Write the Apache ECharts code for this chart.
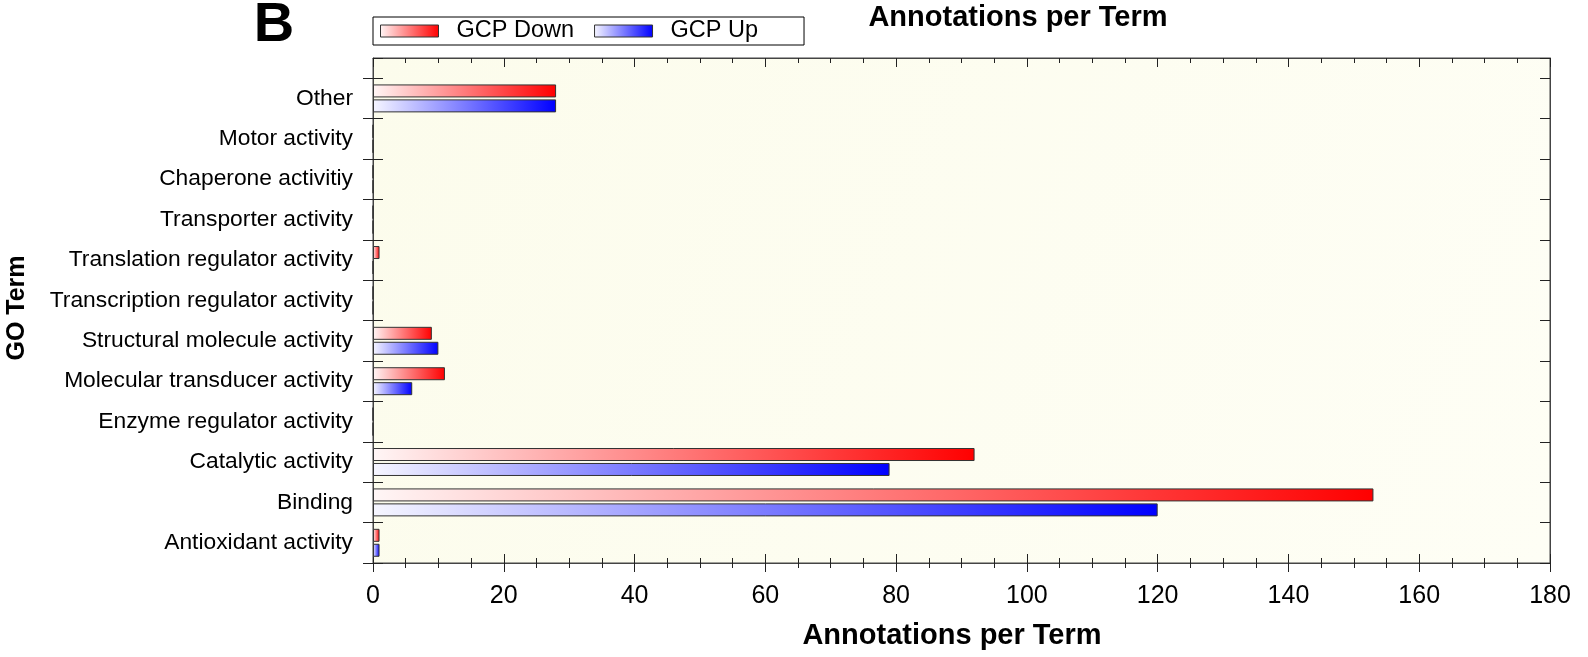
<!DOCTYPE html>
<html>
<head>
<meta charset="utf-8">
<script src="https://cdn.jsdelivr.net/npm/echarts@6/dist/echarts.min.js"></script>
<style>html,body{margin:0;padding:0;background:#fff;}#chart{width:1588px;height:657px;}</style>
</head>
<body>
<div id="chart"></div>
<script>
// GO terms, bottom to top as drawn on the category axis
const categories = ['Antioxidant activity', 'Binding', 'Catalytic activity', 'Enzyme regulator activity',
  'Molecular transducer activity', 'Structural molecule activity', 'Transcription regulator activity',
  'Translation regulator activity', 'Transporter activity', 'Chaperone activitiy', 'Motor activity', 'Other'];
const gcpDown = [1, 153, 92, 0, 11, 9, 0, 1, 0, 0, 0, 28];
const gcpUp = [1, 120, 79, 0, 6, 10, 0, 0, 0, 0, 0, 28];
const xTicks = { min: 0, max: 180, interval: 20 };

const FONT = "'Liberation Sans', Arial, sans-serif";
const chart = echarts.init(document.getElementById('chart'));

const redGrad = new echarts.graphic.LinearGradient(0, 0, 1, 0, [
  { offset: 0, color: '#fff6f6' }, { offset: 1, color: '#ff0000' }]);
const blueGrad = new echarts.graphic.LinearGradient(0, 0, 1, 0, [
  { offset: 0, color: '#f6f6ff' }, { offset: 1, color: '#0000ff' }]);

const GRID_TOP = 58, GRID_H = 505, UNITS = 12.5;
const band = GRID_H / UNITS;

const tickCol = '#222';
const lineCol = '#444';

function xAxisCfg(grid, pos, inside, labels, showLine) {
  return {
    type: 'value', gridIndex: grid, position: pos,
    min: xTicks.min, max: xTicks.max, interval: xTicks.interval,
    axisLine: { show: showLine, onZero: false, lineStyle: { color: lineCol, width: 1 } },
    axisTick: { show: true, inside: inside, length: 9, lineStyle: { color: tickCol, width: 1 } },
    minorTick: { show: true, splitNumber: 4, length: 5, lineStyle: { color: tickCol, width: 1 } },
    splitLine: { show: false },
    axisLabel: { show: labels, fontSize: 25, color: '#000', margin: 21, fontFamily: FONT }
  };
}

const option = {
  backgroundColor: '#ffffff',
  animation: false,
  legend: {
    data: ['GCP Down', 'GCP Up'],
    left: 373, top: 17,
    orient: 'horizontal',
    itemWidth: 58, itemHeight: 12, itemGap: 20,
    padding: [2, 46, 2, 7],
    borderColor: '#000', borderWidth: 1,
    backgroundColor: '#fff',
    icon: 'rect',
    itemStyle: { borderColor: '#333', borderWidth: 1 },
    textStyle: { fontSize: 23.5, color: '#000', fontFamily: FONT, padding: [0, 0, 0, 13] }
  },
  grid: [
    { left: 373, right: 38, top: GRID_TOP, height: GRID_H, show: true,
      borderColor: lineCol, borderWidth: 1,
      backgroundColor: new echarts.graphic.LinearGradient(0, 0, 1, 1, [
        { offset: 0, color: '#fcfcec' }, { offset: 1, color: '#fefef5' }]) },
    { left: 373, right: 38, top: GRID_TOP + band * 0.5, height: band * 12 }
  ],
  xAxis: [
    xAxisCfg(0, 'bottom', false, true, true),
    xAxisCfg(0, 'top', true, false, true),
    xAxisCfg(1, 'bottom', true, false, false)
  ],
  yAxis: [
    { type: 'value', gridIndex: 0, position: 'left', min: 0, max: UNITS, interval: 1,
      axisLine: { show: true, onZero: false, lineStyle: { color: lineCol, width: 1 } },
      axisTick: { show: true, inside: true, length: 10, lineStyle: { color: tickCol, width: 1 } },
      axisLabel: { show: false }, splitLine: { show: false } },
    { type: 'value', gridIndex: 0, position: 'right', min: 0, max: UNITS, interval: 1,
      axisLine: { show: true, onZero: false, lineStyle: { color: lineCol, width: 1 } },
      axisTick: { show: true, inside: true, length: 10, lineStyle: { color: tickCol, width: 1 } },
      axisLabel: { show: false }, splitLine: { show: false } },
    { type: 'category', gridIndex: 1, position: 'left', data: categories,
      axisLine: { show: false, onZero: false },
      axisTick: { show: true, inside: false, length: 10, lineStyle: { color: tickCol, width: 1 } },
      axisLabel: { show: true, fontSize: 22.8, color: '#000', margin: 20, fontFamily: FONT },
      splitLine: { show: false } }
  ],
  series: [
    { name: 'GCP Down', type: 'bar', xAxisIndex: 2, yAxisIndex: 2, data: gcpDown,
      barWidth: 13, barGap: '15%',
      itemStyle: { color: redGrad, borderColor: '#333', borderWidth: 1 } },
    { name: 'GCP Up', type: 'bar', xAxisIndex: 2, yAxisIndex: 2, data: gcpUp,
      barWidth: 13, barGap: '15%',
      itemStyle: { color: blueGrad, borderColor: '#333', borderWidth: 1 } }
  ],
  graphic: [
    { type: 'text', x: 274, y: 26, style: { text: 'B', font: "bold 56px " + FONT, fill: '#000',
      textAlign: 'center', textVerticalAlign: 'middle' } },
    { type: 'text', x: 1018, y: 18, style: { text: 'Annotations per Term', font: "bold 29px " + FONT,
      fill: '#000', textAlign: 'center', textVerticalAlign: 'middle' } },
    { type: 'text', x: 952, y: 636, style: { text: 'Annotations per Term', font: "bold 29px " + FONT,
      fill: '#000', textAlign: 'center', textVerticalAlign: 'middle' } },
    { type: 'text', x: 17.5, y: 308, rotation: Math.PI / 2, style: { text: 'GO Term', font: "bold 25px " + FONT,
      fill: '#000', textAlign: 'center', textVerticalAlign: 'middle' } }
  ]
};
chart.setOption(option);
</script>
</body>
</html>
